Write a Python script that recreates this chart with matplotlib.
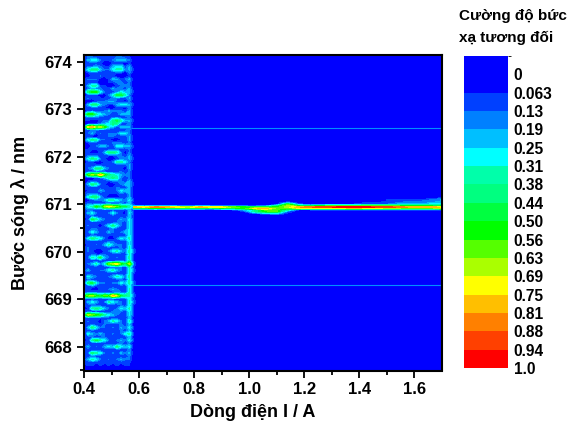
import numpy as np
import matplotlib
matplotlib.use('Agg')
import matplotlib.pyplot as plt
from matplotlib.colors import ListedColormap, BoundaryNorm
from matplotlib.cm import ScalarMappable

plt.rcParams['font.family'] = ['Liberation Sans', 'DejaVu Sans']
plt.rcParams['font.weight'] = 'bold'

# Thang mau
level_labels = ['0', '0.063', '0.13', '0.19', '0.25', '0.31', '0.38', '0.44', '0.50',
                '0.56', '0.63', '0.69', '0.75', '0.81', '0.88', '0.94', '1.0']
levels = [0, 0.063, 0.13, 0.19, 0.25, 0.31, 0.38, 0.44, 0.50,
          0.56, 0.63, 0.69, 0.75, 0.81, 0.88, 0.94, 1.0]
level_colors = ['#0000ff', '#0040ff', '#0080ff', '#00bfff', '#00ffff', '#00ffaa', '#00ff80',
                '#00ff40', '#00ff00', '#55ff00', '#aaff00', '#ffff00', '#ffbf00',
                '#ff8000', '#ff4000', '#ff0000']

# Vung nhieu duoi nguong (hex 0-f, tu tren xuong)
noise_current = [0.40, 0.415, 0.43, 0.445, 0.46, 0.475, 0.49, 0.505, 0.52, 0.535, 0.55, 0.565, 0.58, 0.595]
noise_wavelength = np.linspace(674.1, 667.6, 98)
noise_rows = [
    '12211111221100', '03442112333200', '11111001110100', '02232113441300',
    '14663224552310', '01111111110200', '00112111000100', '12220013312300',
    '11110011221200', '03551100122200', '12322113221300', '16884211243310',
    '01110024775200', '12111112211300', '00012233110200', '03663211344310',
    '11111100110200', '01211232221300', '48854321133300', '12221112211200',
    '11001226753310', '00112346510200', '3bc9a843133300', '11221111111200',
    '02312122244200', '11001122111300', '14652210011300', '01111112221200',
    '00123321443310', '11111111211200', '11001366520200', '02221111221300',
    '14652100122310', '01100112554200', '11111111111300', '02366321110300',
    '11121111121200', '38a8c865432200', '10012356521200', '01111112221300',
    '03652100123310', '11111111211300', '01113211243300', '12221111121300',
    '14663100011300', '00122355432410', '12111111121300', '24586aba977530',
    '12111211121310', '03421124210410', '11211111111310', '01753211132410',
    '11111111221410', '12110246421410', '11221112111410', '02431132123410',
    '11111111111410', '14654200243510', '11111122111410', '01121353221410',
    '12111111121510', '12100124532520', '11211211111510', '02547321212510',
    '11111111121510', '1235249ab86a20', '11111111221510', '13112245321520',
    '11111111111510', '04321123542510', '12111111121510', '16742212243520',
    '11211111111410', '11001123211510', '12221111221510', '79a8798ca76520',
    '11111111111410', '03431254321520', '11211111121410', '01565321243510',
    '11111112221410', '5a987543211410', '11111111111300', '12110235421510',
    '11211211121300', '03642212132410', '11111111121300', '04323212124510',
    '11211211111300', '01575421232410', '11111111121200', '13121343643400',
    '11111111111200', '02654212132300', '11211111111200', '13542121232200',
    '11111111111100', '01101010101100',
]

# Vach laser hep quanh 671 nm
line_current = [0.58, 0.62, 0.66, 0.70, 0.74, 0.78, 0.82, 0.86, 0.90, 0.94, 0.98, 1.02, 1.06, 1.10, 1.14,
                1.18, 1.22, 1.26, 1.30, 1.34, 1.38, 1.42, 1.46, 1.50, 1.54, 1.58, 1.62, 1.66, 1.70]
line_wavelength = [671.15, 671.12, 671.09, 671.06, 671.03, 671.00, 670.97, 670.94,
                   670.91, 670.88, 670.85, 670.82, 670.79, 670.76, 670.73, 670.70]
line_rows = [
    '00000000000000000000000000000',
    '00000000000000000000000000012',
    '00000000000000000000000111123',
    '00000000000000000000000112223',
    '00000000000000300000011122233',
    '00000000000000820011122233344',
    '00000000000015a65677777776766',
    'cbdcbacbb98778acdeefffeedcccb',
    '55655554668bc98a9999a9988777a',
    '00000000013598511222222222222',
    '00000000001689200000000000000',
    '00000000000355100000000000000',
    '00000000000012000000000000000',
    '00000000000000000000000000000',
    '00000000000000000000000000000',
    '00000000000000000000000000000',
]

# Hai vach mo ngang
faint_wavelength = [672.6, 669.3]


def hex_grid(rows):
    return np.array([[int(c, 16) / 15 for c in r] for r in rows])


fig = plt.figure(figsize=(5.74, 4.23), dpi=100)
ax = fig.add_axes([84 / 574, 1 - 370.5 / 423, 358 / 574, 315 / 423])
ax.set_facecolor('#0000ff')

ax.contourf(noise_current, noise_wavelength, hex_grid(noise_rows), levels=levels[1:], colors=level_colors[1:])
ax.hlines(faint_wavelength, 0.57, 1.7, color='#0090ff', lw=0.8)
ax.contourf(line_current, line_wavelength, hex_grid(line_rows), levels=levels[1:], colors=level_colors[1:])

ax.set_xlim(0.4, 1.7)
ax.set_ylim(667.53, 674.13)
ax.set_xticks(np.arange(0.4, 1.7, 0.2))
ax.set_xticks(np.arange(0.5, 1.7, 0.2), minor=True)
ax.set_yticks(np.arange(668, 675))
ax.set_yticks(np.arange(667.5, 674.5, 1), minor=True)
ax.tick_params(which='major', length=5, width=1.3, labelsize=12)
ax.tick_params(which='minor', length=3, width=1.3)
for s in ax.spines.values():
    s.set_linewidth(1.5)

fig.text(253 / 574, 1 - 412 / 423, 'Dòng điện I / A', fontsize=13, fontweight='bold', ha='center', va='center')
fig.text(20 / 574, 1 - 213 / 423, 'Bước sóng λ / nm', fontsize=13, fontweight='bold', rotation=90,
         ha='center', va='center')

# Thanh mau: o dau tien rong gap doi
cax = fig.add_axes([464 / 574, 1 - 368 / 423, 44 / 574, 312 / 423])
cmap = ListedColormap(['#0000ff'] + level_colors)
norm = BoundaryNorm(np.arange(len(levels) + 1), cmap.N)
cb = fig.colorbar(ScalarMappable(norm=norm, cmap=cmap), cax=cax, spacing='uniform')
cb.outline.set_visible(False)
cb.set_ticks(np.arange(1, len(levels) + 1), labels=level_labels)
cb.ax.invert_yaxis()
cb.ax.tick_params(length=0, labelsize=11.2, pad=4)

fig.text(459 / 574, 1 - 16 / 423, 'Cường độ bức', fontsize=11, fontweight='bold', va='center')
fig.text(459 / 574, 1 - 38 / 423, 'xạ tương đối', fontsize=11, fontweight='bold', va='center')

fig.savefig('out.png', dpi=100)
